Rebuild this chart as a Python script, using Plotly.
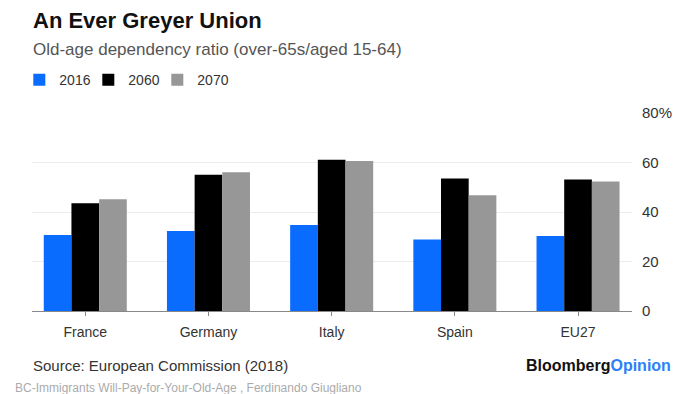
import plotly.graph_objects as go

# Old-age dependency ratio (over-65s / aged 15-64), %
countries = ["France", "Germany", "Italy", "Spain", "EU27"]
ratio_2016 = [30.7, 32.3, 34.7, 28.9, 30.3]
ratio_2060 = [43.5, 55.1, 61.1, 53.5, 53.1]
ratio_2070 = [45.2, 56.1, 60.6, 46.8, 52.3]
series_names = ["2016", "2060", "2070"]
y_ticks = [0, 20, 40, 60, 80]
y_tick_text = ["0", "20", "40", "60", "80%"]

W, H = 676, 394
L, R, T, B = 31.7, 632.0, 113.3, 310.7  # plot area edges in pixels


def px_x(x):
    return (x - L) / (R - L)


def px_y(y):
    return (B - y) / (B - T)


FONT = "Liberation Sans, Arial, sans-serif"
colors = ["#0a6cff", "#000000", "#979797"]
legend_widths = [24, 24, 40]

fig = go.Figure()
for name, vals, col, lw in zip(series_names, [ratio_2016, ratio_2060, ratio_2070],
                               colors, legend_widths):
    fig.add_trace(go.Bar(name=name, x=countries, y=vals, marker_color=col,
                         marker_line_width=0, legendwidth=lw,
                         hoverinfo="x+y+name"))

fig.update_layout(
    width=W, height=H,
    margin=dict(l=L, r=W - R, t=T, b=H - B, pad=0, autoexpand=False),
    paper_bgcolor="white", plot_bgcolor="white",
    barmode="group", bargap=0.326, bargroupgap=0,
    font=dict(family=FONT, color="#333333", size=14),
    showlegend=True,
    legend=dict(orientation="h", x=px_x(19), xanchor="left",
                y=px_y(80.5), yanchor="middle",
                font=dict(size=14, color="#333333"),
                bgcolor="rgba(0,0,0,0)", borderwidth=0),
    xaxis=dict(range=[-0.4325, 4.438], showgrid=False, zeroline=False,
               showline=True, linecolor="#888888", linewidth=1.2,
               ticks="outside", ticklen=4, tickwidth=1,
               tickcolor="#888888", ticklabelstandoff=4, automargin=False,
               tickfont=dict(size=14, color="#333333"), fixedrange=True),
    yaxis=dict(range=[0, 80], side="right", tickvals=y_ticks,
               ticktext=y_tick_text, showgrid=True, gridcolor="#ececec",
               gridwidth=1, zeroline=False, showline=False, ticks="",
               ticklabelstandoff=9, automargin=False,
               tickfont=dict(size=15, color="#333333"), fixedrange=True),
)

annotations = [
    dict(text="<b>An Ever Greyer Union</b>", x=px_x(31), y=px_y(21.5),
         font=dict(size=22, color="#111111")),
    dict(text="Old-age dependency ratio (over-65s/aged 15-64)", x=px_x(31),
         y=px_y(49.5), font=dict(size=17, color="#555555")),
    dict(text="Source: European Commission (2018)", x=px_x(31), y=px_y(365.5),
         font=dict(size=15, color="#333333")),
    dict(text="BC-Immigrants Will-Pay-for-Your-Old-Age , Ferdinando Giugliano",
         x=px_x(13), y=px_y(387), font=dict(size=12, color="#ababab")),
]
for a in annotations:
    fig.add_annotation(xref="paper", yref="paper", xanchor="left",
                       yanchor="middle", showarrow=False, **a)

fig.add_annotation(
    text="<b>Bloomberg</b><b><span style='color:#2d7ff9'>Opinion</span></b>",
    xref="paper", yref="paper", x=px_x(673), y=px_y(365), xanchor="right",
    yanchor="middle", showarrow=False, font=dict(size=16, color="#111111"))

fig.write_html("out.html")
